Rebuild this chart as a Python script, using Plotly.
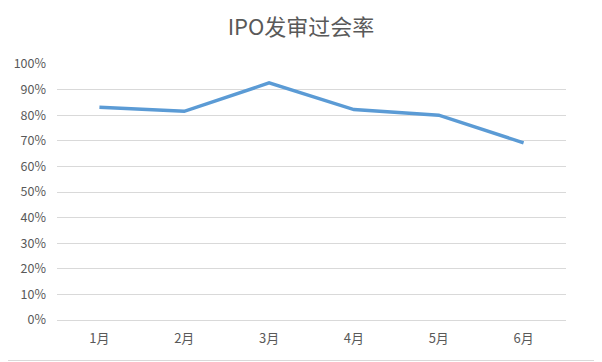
import plotly.graph_objects as go

months = ["1月", "2月", "3月", "4月", "5月", "6月"]
pass_rate = [0.831, 0.815, 0.926, 0.822, 0.800, 0.692]
y_ticks = [i / 10 for i in range(11)]
y_tick_labels = [f"{i*10}%" for i in range(11)]

# page is offset by the browser's 8px body margin
OFF = 8
L, T = 57 - OFF, 64 - OFF
pw, ph = 509, 256
R = 602 - L - pw
B = 362 - T - ph

def px_to_paper_x(px):
    return (px - OFF - L) / pw

def px_to_paper_y(py):
    return (T + ph - (py - OFF)) / ph

fig = go.Figure()
fig.add_trace(go.Scatter(
    x=months, y=pass_rate, mode="lines",
    line=dict(color="#5b9bd5", width=3.5),
    hoverinfo="skip", showlegend=False,
))

fig.update_layout(
    width=602, height=362,
    margin=dict(l=L, r=R, t=T, b=B, pad=0),
    paper_bgcolor="white", plot_bgcolor="white",
    font=dict(family="Noto Sans CJK SC, Noto Sans, sans-serif", color="#595959", size=12),
    title=dict(text="IPO发审过会率", xref="container", x=(301 - OFF) / 602, xanchor="center",
               yref="container", y=1 - (27 - OFF) / 362, yanchor="middle",
               font=dict(size=22, color="#595959")),
    xaxis=dict(range=[-0.5, 5.5], showgrid=False, showline=False, zeroline=False, ticks="",
               tickfont=dict(size=13, color="#595959"), ticklabelstandoff=9, automargin=False),
    yaxis=dict(range=[0, 1.0], tickvals=y_ticks, ticktext=y_tick_labels,
               showgrid=True, gridcolor="#d9d9d9", gridwidth=1,
               zeroline=True, zerolinecolor="#d9d9d9", zerolinewidth=1,
               showline=False, ticks="", tickfont=dict(size=12.5, color="#595959"),
               ticklabelstandoff=10, automargin=False),
    shapes=[
        dict(type="line", xref="paper", yref="paper",
             x0=px_to_paper_x(599.5), x1=px_to_paper_x(599.5),
             y0=px_to_paper_y(360.5), y1=px_to_paper_y(-20),
             line=dict(color="#d9d9d9", width=1), layer="above"),
        dict(type="line", xref="paper", yref="paper",
             x0=px_to_paper_x(-20), x1=px_to_paper_x(599.5),
             y0=px_to_paper_y(360.5), y1=px_to_paper_y(360.5),
             line=dict(color="#d9d9d9", width=1), layer="above"),
    ],
)

fig.write_html("out.html")
